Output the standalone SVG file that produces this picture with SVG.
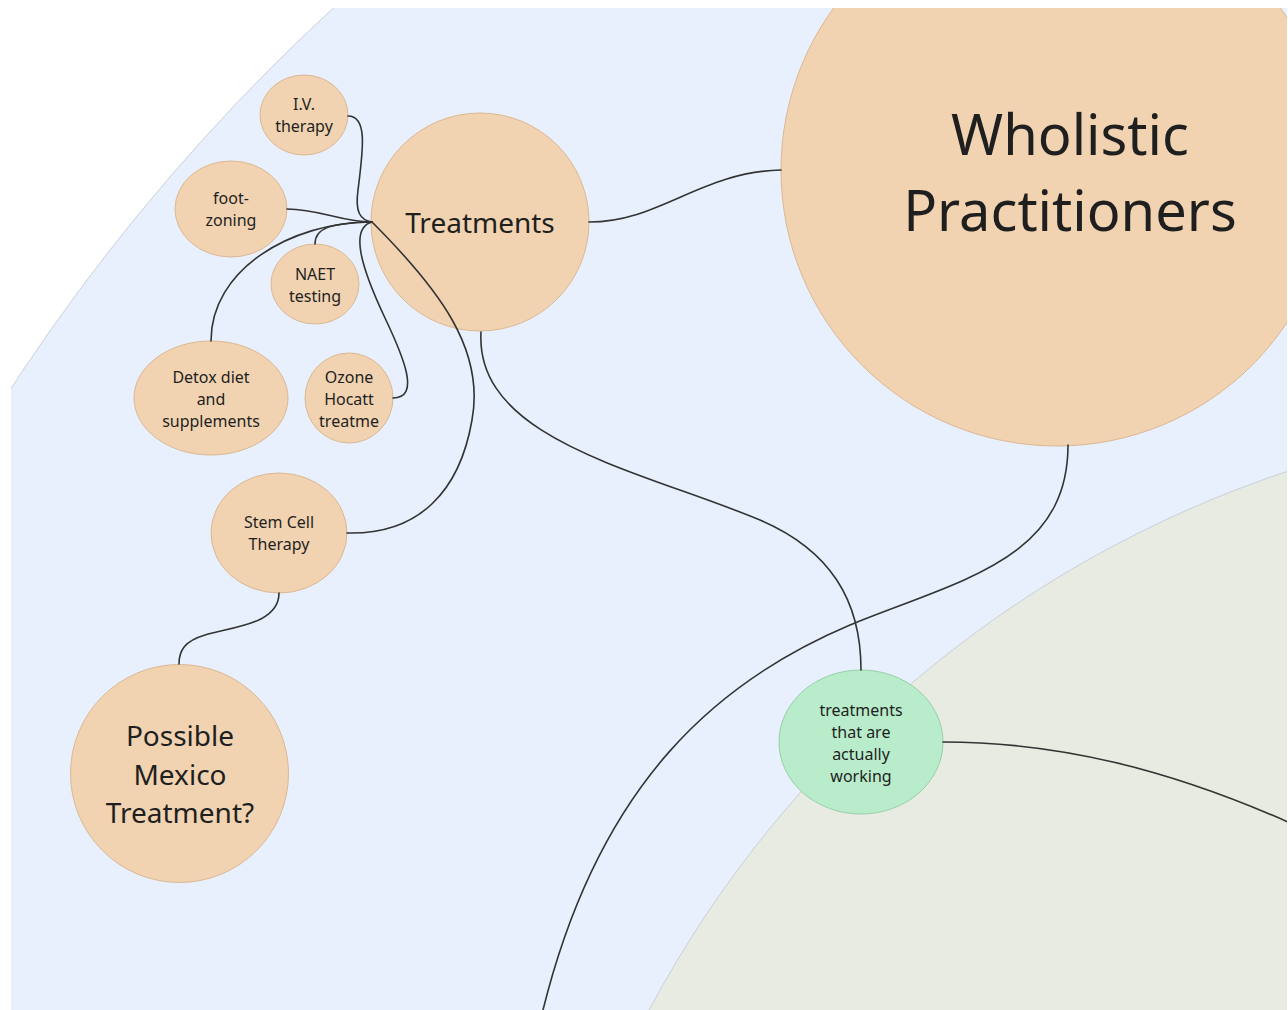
<svg xmlns="http://www.w3.org/2000/svg" width="1288" height="1010" viewBox="0 0 1288 1010">
  <style>
    .zone { stroke: #c9d0d8; stroke-width: 1; }
    .node { fill: #f1d3b1; stroke: #dbb892; stroke-width: 1; }
    .node-green { fill: #b9ecca; stroke: #98cfaa; stroke-width: 1; }
    .lbl { font-family: "Noto Sans", "Open Sans", sans-serif; fill: #1f1f1f; text-anchor: middle; }
    .s { font-size: 16px; }
    .m { font-size: 28px; }
    .l { font-size: 56px; }
    .link { fill: none; stroke: #333333; stroke-width: 1.6; stroke-linecap: round; }
  </style>
  <defs>
    <clipPath id="board">
      <rect x="11" y="8" width="1276" height="1002"/>
    </clipPath>
  </defs>
  <rect x="0" y="0" width="1288" height="1010" fill="#ffffff"/>
  <g clip-path="url(#board)">
    <!-- background zones -->
    <g id="zones">
      <circle class="zone" cx="1693" cy="1487" r="2009" fill="#e8f0fd"/>
      <circle class="zone" cx="1642" cy="1539" r="1125" fill="#e8ebe2"/>
    </g>

    <!-- nodes -->
    <g id="wholistic">
      <circle class="node" cx="1057" cy="170" r="276"/>
      <text class="lbl l" x="1070" y="155">Wholistic</text>
      <text class="lbl l" x="1070" y="231">Practitioners</text>
    </g>
    <g id="treatments">
      <circle class="node" cx="480" cy="222" r="109"/>
      <text class="lbl m" x="480" y="233">Treatments</text>
    </g>
    <g id="iv-therapy">
      <ellipse class="node" cx="304" cy="115" rx="44" ry="40"/>
      <text class="lbl s" x="304" y="110">I.V.</text>
      <text class="lbl s" x="304" y="132">therapy</text>
    </g>
    <g id="foot-zoning">
      <ellipse class="node" cx="231" cy="209" rx="56" ry="48"/>
      <text class="lbl s" x="231" y="204">foot-</text>
      <text class="lbl s" x="231" y="226">zoning</text>
    </g>
    <g id="naet-testing">
      <ellipse class="node" cx="315" cy="284" rx="44" ry="40"/>
      <text class="lbl s" x="315" y="280">NAET</text>
      <text class="lbl s" x="315" y="302">testing</text>
    </g>
    <g id="detox">
      <ellipse class="node" cx="211" cy="398" rx="77" ry="57"/>
      <text class="lbl s" x="211" y="383">Detox diet</text>
      <text class="lbl s" x="211" y="405">and</text>
      <text class="lbl s" x="211" y="427">supplements</text>
    </g>
    <g id="ozone">
      <ellipse class="node" cx="349" cy="398" rx="44" ry="45"/>
      <text class="lbl s" x="349" y="383">Ozone</text>
      <text class="lbl s" x="349" y="405">Hocatt</text>
      <text class="lbl s" x="349" y="427">treatme</text>
    </g>
    <g id="stem-cell">
      <ellipse class="node" cx="279" cy="533" rx="68" ry="60"/>
      <text class="lbl s" x="279" y="528">Stem Cell</text>
      <text class="lbl s" x="279" y="550">Therapy</text>
    </g>
    <g id="mexico">
      <circle class="node" cx="179.5" cy="773.5" r="109"/>
      <text class="lbl m" x="180" y="746">Possible</text>
      <text class="lbl m" x="180" y="785">Mexico</text>
      <text class="lbl m" x="180" y="823">Treatment?</text>
    </g>
    <g id="working">
      <ellipse class="node-green" cx="861" cy="742" rx="82" ry="72"/>
      <text class="lbl s" x="861" y="716">treatments</text>
      <text class="lbl s" x="861" y="738">that are</text>
      <text class="lbl s" x="861" y="760">actually</text>
      <text class="lbl s" x="861" y="782">working</text>
    </g>

    <!-- connectors -->
    <g id="connectors">
      <path class="link" d="M348,116 C368,116 363,150 358,190 C355,212 360,220 372,222"/>
      <path class="link" d="M287,209 C320,209 340,222 372,222"/>
      <path class="link" d="M315,244 C315,228 330,223 372,222"/>
      <path class="link" d="M211,341 C211,270 290,222 372,222"/>
      <path class="link" d="M393,398 C420,398 405,360 385,318 C360,265 350,228 372,222"/>
      <path class="link" d="M347,533 C420,535 460,490 472,420 C485,350 440,290 372,222"/>
      <path class="link" d="M481,332 C475,440 640,470 760,520 C830,550 861,600 861,670"/>
      <path class="link" d="M589,222 C660,222 700,172 781,170"/>
      <path class="link" d="M1068,445 C1068,560 960,580 850,625 C720,680 600,780 543,1010"/>
      <path class="link" d="M943,742 C1060,742 1170,770 1288,822"/>
      <path class="link" d="M279,593 C279,625 230,627 205,635 C185,641 179,650 179,664"/>
    </g>
  </g>
</svg>
